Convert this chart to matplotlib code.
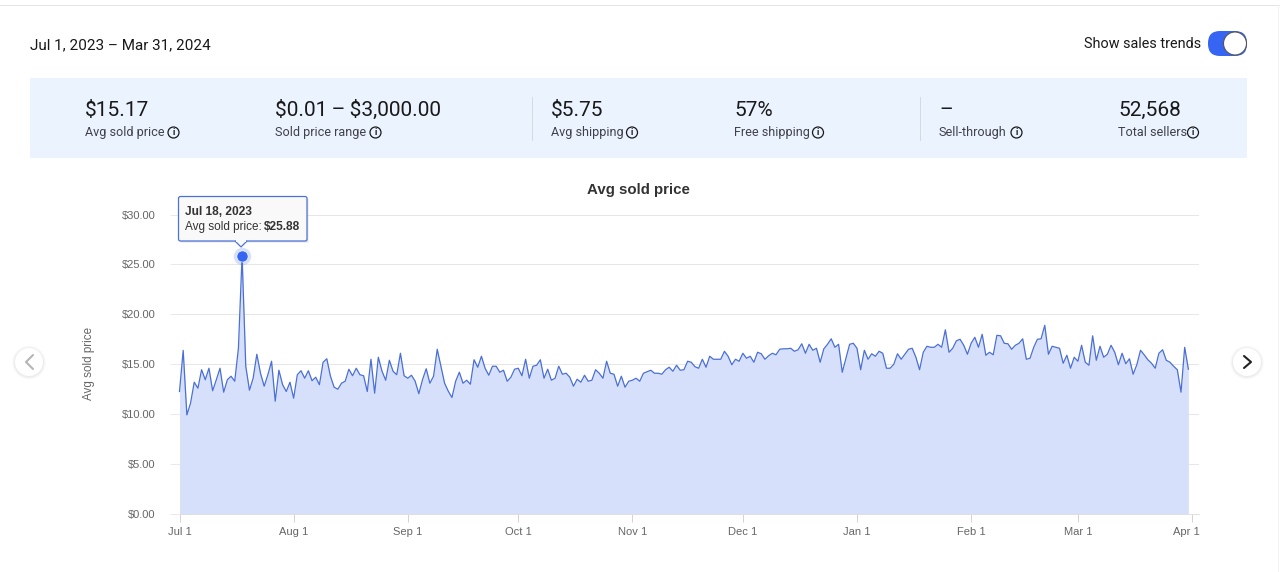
import numpy as np
import pandas as pd
import matplotlib
matplotlib.use("Agg")
import matplotlib.pyplot as plt
import matplotlib.dates as mdates
from matplotlib.patches import Circle, FancyBboxPatch, Polygon, Rectangle
from matplotlib.transforms import ScaledTranslation

# Daily average sold price, Jul 1 2023 onwards
avg_price = [
    12.27, 16.39, 9.93, 11.1, 13.2, 12.6, 14.45, 13.45, 14.6, 12.34,
    13.45, 14.6, 12.2, 13.45, 13.8, 13.3, 16.6, 25.88, 14.8, 12.4,
    13.6, 16.0, 14.1, 12.8, 13.95, 15.3, 11.3, 14.4, 12.95, 12.27,
    13.2, 11.6, 13.95, 14.35, 13.6, 14.35, 13.35, 13.7, 12.95, 15.2,
    15.55, 13.8, 12.7, 12.5, 13.1, 13.3, 14.5, 13.85, 14.6, 13.95,
    13.85, 12.27, 15.5, 12.1, 15.7, 14.3, 13.4, 15.4, 14.3, 13.95,
    16.1, 13.85, 13.6, 13.9, 13.3, 12.05, 13.45, 14.55, 13.1, 13.8,
    16.5, 14.8, 13.1, 12.3, 11.67, 13.3, 14.2, 13.1, 13.4, 13.0,
    15.45, 14.7, 15.8, 14.6, 13.9, 14.8, 14.8, 14.2, 14.4, 13.3,
    13.7, 14.5, 14.6, 13.85, 15.5, 13.6, 14.8, 14.9, 15.45, 13.6,
    14.5, 13.4, 13.6, 14.8, 14.0, 14.1, 13.7, 12.8, 13.5, 13.2,
    13.9, 13.3, 13.4, 14.45, 14.1, 13.6, 15.3, 14.1, 14.0, 12.8,
    13.8, 12.7, 13.3, 13.4, 13.6, 13.3, 14.1, 14.25, 14.4, 14.1,
    14.1, 14.0, 14.45, 14.7, 14.3, 14.9, 14.4, 14.45, 15.3, 15.2,
    14.75, 14.6, 15.5, 14.7, 15.8, 15.5, 15.5, 15.5, 16.3, 15.8,
    14.95, 15.5, 15.3, 16.1, 15.6, 15.8, 15.2, 16.2, 16.05, 15.5,
    15.85, 16.1, 15.95, 16.5, 16.55, 16.55, 16.6, 16.3, 16.45, 17.05,
    16.1, 17.0, 16.4, 16.6, 15.2, 16.55, 17.0, 17.55, 16.7, 17.0,
    14.2, 15.6, 17.0, 17.1, 16.6, 14.45, 16.4, 15.5, 16.05, 15.8,
    16.3, 16.1, 14.6, 14.6, 15.0, 16.05, 15.5, 16.0, 16.5, 16.6,
    15.7, 14.45, 16.2, 16.8, 16.7, 16.7, 17.0, 16.7, 18.45, 16.2,
    16.6, 17.35, 17.5, 16.9, 16.0, 17.1, 17.7, 16.7, 18.0, 15.9,
    16.2, 15.95, 17.9, 17.85, 17.1, 17.05, 16.5, 16.9, 17.1, 17.55,
    15.5, 15.6, 16.7, 17.5, 17.55, 18.9, 16.0, 16.8, 16.7, 16.6,
    15.1, 15.9, 14.6, 15.7, 15.3, 16.9, 15.2, 14.9, 17.85, 15.4,
    16.8, 15.7, 16.0, 16.9, 16.2, 14.95, 16.1, 15.05, 15.55, 14.0,
    14.95, 16.4, 15.95, 15.45, 15.1, 14.6, 16.1, 16.45, 15.4, 15.2,
    14.8, 14.45, 12.2, 16.7, 14.5,
]
days = pd.date_range("2023-07-01", periods=len(avg_price), freq="D")

y_ticks = [0, 5, 10, 15, 20, 25, 30]
x_ticks = pd.to_datetime(["2023-07-01", "2023-08-01", "2023-09-01", "2023-10-01", "2023-11-01",
                          "2023-12-01", "2024-01-01", "2024-02-01", "2024-03-01", "2024-04-01"])
x_labels = ["Jul 1", "Aug 1", "Sep 1", "Oct 1", "Nov 1", "Dec 1", "Jan 1", "Feb 1", "Mar 1", "Apr 1"]

peak_day = pd.Timestamp("2023-07-18")
peak_price = 25.88

# stat panel: big value, caption, x position, icon position
stats = [
    ("$15.17", "Avg sold price", 85, 173.5),
    ("$0.01\u2009–\u2009$3,000.00", "Sold price range", 275, 375.5),
    ("$5.75", "Avg shipping", 551, 632),
    ("57%", "Free shipping", 734, 818),
    ("–", "Sell-through", 939, 1016.5),
    ("52,568", "Total sellers", 1118, 1193),
]

W, H = 1280, 572
UI_FONT = "Roboto"
CHART_FONT = "Liberation Sans"
BLUE = "#3665f3"

fig = plt.figure(figsize=(W / 100, H / 100), dpi=100, facecolor="white")

# page furniture is drawn in pixel coordinates on a full size axes
ui = fig.add_axes([0, 0, 1, 1], zorder=1)
ui.set_xlim(0, W)
ui.set_ylim(H, 0)
ui.axis("off")

ui.plot([0, W], [5, 5], color="#e5e5e5", lw=0.72)
ui.plot([1278, 1278], [5, H], color="#f2f2f2", lw=0.72)

ui.text(30, 49, "Jul 1, 2023 – Mar 31, 2024", family=UI_FONT, fontsize=11, color="#191919", parse_math=False)
ui.text(1201, 48, "Show sales trends", family=UI_FONT, fontsize=10.4, color="#191919", ha="right", parse_math=False)

# toggle
ui.add_patch(FancyBboxPatch((1208 + 12, 31 + 12), 39 - 24, 1, boxstyle="round,pad=12,rounding_size=12",
                            fc=BLUE, ec="none"))
ui.add_patch(Circle((1235, 43.5), 11.5, fc="white", ec="#555555", lw=0.8))

# stat panel
ui.add_patch(Rectangle((30, 78), 1217, 80, fc="#ebf3fe", ec="none"))
for sep_x in [532, 920]:
    ui.plot([sep_x, sep_x], [97, 140], color="#d5d9e0", lw=0.72)

for value, caption, x, icon_x in stats:
    ui.text(x, 116, value, family=[UI_FONT, "DejaVu Sans"], fontsize=15, color="#191919", parse_math=False)
    ui.text(x, 136, caption, family=UI_FONT, fontsize=9.1, color="#41414a", parse_math=False)
    ui.add_patch(Circle((icon_x, 132.5), 5.5, fc="none", ec="#191919", lw=0.9))
    ui.text(icon_x, 132.7, "i", family=UI_FONT, fontsize=6.5, color="#191919", va="center", ha="center",
            fontweight="bold")

ui.text(638, 194, "Avg sold price", family=CHART_FONT, fontsize=10.8, fontweight="bold", color="#333333",
        ha="center")
ui.text(89, 363, "Avg sold price", family=CHART_FONT, fontsize=8.4, color="#666666", rotation=90,
        ha="center", va="center")

# carousel buttons
for cx, chevron, col in [(29, [(33, 355), (26, 362), (33, 369)], "#b5b5b5"),
                         (1247, [(1244, 356), (1251, 362), (1244, 368)], "#222222")]:
    for r, a in [(17, 0.03), (16, 0.05), (15, 0.08)]:
        ui.add_patch(Circle((cx, 362.5), r, fc="#888888", ec="none", alpha=a))
    ui.add_patch(Circle((cx, 362), 14, fc="white", ec="none"))
    ui.plot(*zip(*chevron), color=col, lw=1.5, solid_capstyle="round")

# chart, placed so that $0 sits on y=514 and $30 on y=215
ax = fig.add_axes([179.5 / W, 1 - 514 / H, (1199 - 179.5) / W, (514 - 214.5) / H], zorder=2)
ax.patch.set_alpha(0)
start = mdates.date2num(days[0])
ax.set_xlim(start, start + (1199 - 179.5) / 3.682)
ax.set_ylim(0, 30)

ax.fill_between(days, avg_price, 0, color="#d6e0fb", lw=0, zorder=2)
ax.plot(days, avg_price, color="#4a6fd6", lw=0.9, zorder=3, clip_on=False)

ax.set_yticks(y_ticks)
ax.set_yticklabels([f"${v:.2f}" for v in y_ticks], parse_math=False)
ax.set_xticks(x_ticks)
ax.set_xticklabels(x_labels)
ax.grid(axis="y", color="#e6e6e6", lw=0.72, zorder=1)
ax.tick_params(axis="y", length=7.2, width=0.6, color="#e6e6e6", labelcolor="#666666", labelsize=8, pad=10)
ax.tick_params(axis="x", length=5.5, width=0.6, color="#cccccc", labelcolor="#666666", labelsize=8, pad=3.6)
for lab in ax.get_xticklabels() + ax.get_yticklabels():
    lab.set_fontfamily(CHART_FONT)
for side in ["top", "right", "left"]:
    ax.spines[side].set_visible(False)
ax.spines["bottom"].set_color("#dddddd")
ax.spines["bottom"].set_linewidth(0.6)

# last label is pushed back inside the plot like the original
last = ax.get_xticklabels()[-1]
last.set_transform(last.get_transform() + ScaledTranslation(-6 / 100, 0, fig.dpi_scale_trans))

# hovered point
ax.plot([peak_day], [peak_price], "o", ms=12.5, color=BLUE, alpha=0.2, mew=0, clip_on=False, zorder=5)
ax.plot([peak_day], [peak_price], "o", ms=8, color=BLUE, mec="white", mew=0.4, clip_on=False, zorder=6)

# tooltip on top of the chart
tip = fig.add_axes([0, 0, 1, 1], zorder=3)
tip.set_xlim(0, W)
tip.set_ylim(H, 0)
tip.axis("off")
tip.patch.set_alpha(0)
tip_x0, tip_x1, tip_y0, tip_y1 = 178.5, 307, 196.5, 241
for off, a in [(2, 0.05), (1, 0.08)]:
    tip.add_patch(Rectangle((tip_x0 + off, tip_y0 + off), tip_x1 - tip_x0, tip_y1 - tip_y0, fc="black", ec="none", alpha=a))
tip.add_patch(FancyBboxPatch((tip_x0, tip_y0), tip_x1 - tip_x0, tip_y1 - tip_y0, boxstyle="round,pad=0,rounding_size=2",
                             fc="#f9f9f9", ec="#4a73d9", lw=0.9))
tip.add_patch(Polygon([(235, 241), (241, 247), (247, 241)], closed=False, fc="#f9f9f9", ec="#4a73d9", lw=0.9))
tip.add_patch(Rectangle((235.8, 239.5), 10.4, 2, fc="#f9f9f9", ec="none"))
tip.text(185, 215, "Jul 18, 2023", family=CHART_FONT, fontsize=8.6, fontweight="bold", color="#333333")
tip.text(185, 230, "Avg sold price:", family=CHART_FONT, fontsize=8.5, color="#333333")
tip.text(264, 230, "$25.88", family=CHART_FONT, fontsize=8.6, fontweight="bold", color="#333333", parse_math=False)

fig.savefig("out.png", dpi=100)
